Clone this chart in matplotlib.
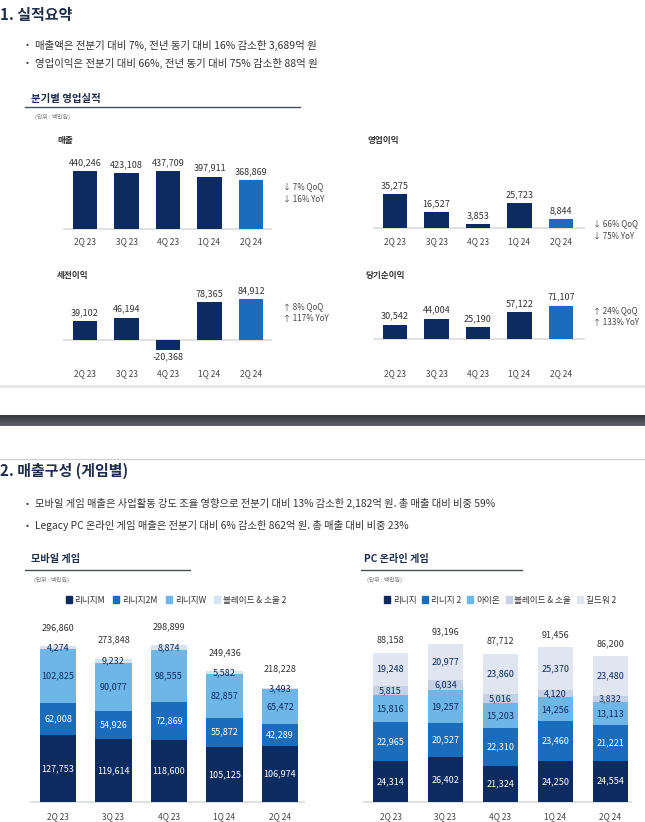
import matplotlib.pyplot as plt
from matplotlib.patches import Patch
from matplotlib.colors import LinearSegmentedColormap
import numpy as np

plt.rcParams['font.family'] = ['Noto Sans CJK KR', 'DejaVu Sans']

W, H = 645, 822

# ---- data ----
quarters = ['2Q 23', '3Q 23', '4Q 23', '1Q 24', '2Q 24']

revenue = [440246, 423108, 437709, 397911, 368869]
op_income = [35275, 16527, 3853, 25723, 8844]
pretax = [39102, 46194, -20368, 78365, 84912]
net_income = [30542, 44004, 25190, 57122, 71107]

top_titles = ['매출', '영업이익', '세전이익', '당기순이익']
top_notes = [['↓ 7% QoQ', '↓ 16% YoY'],
             ['↓ 66% QoQ', '↓ 75% YoY'],
             ['↑ 8% QoQ', '↑ 117% YoY'],
             ['↑ 24% QoQ', '↑ 133% YoY']]

mobile_names = ['리니지M', '리니지2M', '리니지W', '블레이드 & 소울 2']
mobile_lineage_m = [127753, 119614, 118600, 105125, 106974]
mobile_lineage_2m = [62008, 54926, 72869, 55872, 42289]
mobile_lineage_w = [102825, 90077, 98555, 82857, 65472]
mobile_bns2 = [4274, 9232, 8874, 5582, 3493]
mobile_total = [296860, 273848, 298899, 249436, 218228]

pc_names = ['리니지', '리니지 2', '아이온', '블레이드 & 소울', '길드워 2']
pc_lineage = [24314, 26402, 21324, 24250, 24554]
pc_lineage2 = [22965, 20527, 22310, 23460, 21221]
pc_aion = [15816, 19257, 15203, 14256, 13113]
pc_bns = [5815, 6034, 5016, 4120, 3832]
pc_gw2 = [19248, 20977, 23860, 25370, 23480]
pc_total = [88158, 93196, 87712, 91456, 86200]

summary_bullets = ['매출액은 전분기 대비 7%, 전년 동기 대비 16% 감소한 3,689억 원',
                   '영업이익은 전분기 대비 66%, 전년 동기 대비 75% 감소한 88억 원']
game_bullets = ['모바일 게임 매출은 사업활동 강도 조율 영향으로 전분기 대비 13% 감소한 2,182억 원. 총 매출 대비 비중 59%',
                'Legacy PC 온라인 게임 매출은 전분기 대비 6% 감소한 862억 원. 총 매출 대비 비중 23%']

NAVY = '#0c2c61'
BLUE = '#1a6cbd'
LIGHT = '#6db6e6'
PALE = '#c6d1e7'
PALER = '#dfe5f1'
TXT = '#1f2d4d'

fig = plt.figure(figsize=(W / 100, H / 100), dpi=100)
fig.patch.set_facecolor('white')

bg = fig.add_axes([0, 0, 1, 1])
bg.axis('off')


def make_axes(x0, x1, c0, step, ytop, ybot, base, scale):
    # pixel box -> axes whose data units are category index / value
    ax = fig.add_axes([x0 / W, 1 - ybot / H, (x1 - x0) / W, (ybot - ytop) / H])
    ax.set_xlim((x0 - c0) / step, (x1 - c0) / step)
    ax.set_ylim((base - ybot) / scale, (base - ytop) / scale)
    ax.patch.set_visible(False)
    for s in ax.spines.values():
        s.set_visible(False)
    ax.set_yticks([])
    ax.axhline(0, color='#dcdcdc', lw=1.2, zorder=0)
    return ax


# ---- section 1 text ----
bg.text(0, 15, '1. 실적요약', fontsize=10.8, fontweight='bold', color=TXT, va='center')
for i, t in enumerate(summary_bullets):
    y = 45 + 18 * i
    bg.text(26, y, '•', fontsize=6.5, color='#333', va='center')
    bg.text(35, y, t, fontsize=7.5, color='#333', va='center')
bg.text(31, 99, '분기별 영업실적', fontsize=7.5, fontweight='bold', color=TXT, va='center')
bg.plot([25, 300], [107, 107], color='#4a4f5a', lw=1)
bg.text(35, 117, '(단위 : 백만원)', fontsize=4.2, color='#777', va='center')

# ---- top four panels ----
panels = [
    # series, x0, x1, center0, title pos, note pos, ytop, ybot, base, scale, xlabel y
    (revenue, 63, 272, 85, (57, 140), (283, 193), 150, 232, 229, 58 / 440246, 241),
    (op_income, 373, 585, 395, (368, 140), (593, 230), 150, 232, 228, 34 / 35275, 241),
    (pretax, 63, 272, 85, (57, 275), (283, 313), 285, 362, 340, 0.00048, 373),
    (net_income, 373, 585, 395, (365, 275), (593, 317), 285, 362, 339, 0.000465, 373),
]
for k, (vals, x0, x1, c0, tpos, npos, yt, yb, base, sc, ly) in enumerate(panels):
    ax = make_axes(x0, x1, c0, 41.5, yt, yb, base, sc)
    x = np.arange(len(vals))
    cols = [NAVY] * (len(vals) - 1) + [BLUE]
    ax.bar(x, vals, width=0.6, color=cols)
    for xi, v in zip(x, vals):
        if v >= 0:
            ax.annotate(f'{v:,}', (xi, v), xytext=(0, 3), textcoords='offset points',
                        ha='center', va='bottom', fontsize=6.5, color='#333')
        else:
            ax.annotate(f'{v:,}', (xi, v), xytext=(0, -2), textcoords='offset points',
                        ha='center', va='top', fontsize=6.5, color='#333')
    ax.set_xticks(x)
    ax.set_xticklabels(quarters, fontsize=6, color='#444')
    ax.tick_params(axis='x', length=0, pad=(ly - 4 - yb) * 0.72)
    bg.text(tpos[0], tpos[1], top_titles[k], fontsize=6.2, fontweight='bold', color='#333', va='center')
    bg.text(npos[0], npos[1], '\n'.join(top_notes[k]), fontsize=5.8, color='#444',
            va='center', linespacing=1.4)

# ---- separator ----
bg.plot([0, W], [386, 386], color='#e6e6e6', lw=2)
grad = np.linspace(0, 1, 20).reshape(-1, 1)
bg.imshow(grad, extent=[0, W, 426, 415], aspect='auto', zorder=1,
          cmap=LinearSegmentedColormap.from_list('g', ['#35383d', '#5e6267']))
bg.plot([0, W], [459, 459], color='#d4d4d4', lw=1)
bg.set_xlim(0, W)
bg.set_ylim(H, 0)

# ---- section 2 text ----
bg.text(0, 471, '2. 매출구성 (게임별)', fontsize=10.8, fontweight='bold', color=TXT, va='center')
for i, t in enumerate(game_bullets):
    y = 503 + 22 * i
    bg.text(26, y, '•', fontsize=6.5, color='#333', va='center')
    bg.text(35, y, t, fontsize=7.4, color='#333', va='center')

for tx, ux, title in [(31, (25, 190), '모바일 게임'), (364, (361, 522), 'PC 온라인 게임')]:
    bg.text(tx, 559, title, fontsize=7.3, fontweight='bold', color=TXT, va='center')
    bg.plot(ux, [570, 570], color='#4a4f5a', lw=1)
    bg.text(tx + 3, 580, '(단위 : 백만원)', fontsize=4.2, color='#777', va='center')


def stacked(series, colors, txtcols, totals, x0, x1, c0, step, base, scale, width, toff):
    ax = make_axes(x0, x1, c0, step, 615, 803, base, scale)
    x = np.arange(len(totals))
    bottom = np.zeros(len(totals))
    for vals, c, tc in zip(series, colors, txtcols):
        vals = np.array(vals)
        ax.bar(x, vals, width=width, bottom=bottom, color=c)
        for xi, b, v in zip(x, bottom, vals):
            ax.text(xi, b + v / 2, f'{v:,}', ha='center', va='center', fontsize=6.5, color=tc)
        bottom = bottom + vals
    for xi, b, t in zip(x, bottom, totals):
        ax.annotate(f'{t:,}', (xi, b), xytext=(0, toff), textcoords='offset points',
                    ha='center', va='bottom', fontsize=6.5, color='#333')
    ax.set_xticks(x)
    ax.set_xticklabels(quarters, fontsize=6, color='#444')
    ax.tick_params(axis='x', length=0, pad=6.5)
    return ax


mob_series = [mobile_lineage_m, mobile_lineage_2m, mobile_lineage_w, mobile_bns2]
mob_cols = [NAVY, BLUE, LIGHT, '#d7e3f2']
stacked(mob_series, mob_cols, ['white', 'white', NAVY, NAVY], mobile_total,
        30, 305, 58, 55.5, 802, 0.000524, 0.65, 10)

pc_series = [pc_lineage, pc_lineage2, pc_aion, pc_bns, pc_gw2]
pc_cols = [NAVY, BLUE, LIGHT, PALE, PALER]
stacked(pc_series, pc_cols, ['white', 'white', NAVY, NAVY, NAVY], pc_total,
        363, 632, 390.5, 55, 802, 0.00169, 0.64, 6)

for names, cols, cx, cs in [(mobile_names, mob_cols, 176, 1.0), (pc_names, pc_cols, 500, 0.7)]:
    handles = [Patch(color=c, label=n) for n, c in zip(names, cols)]
    fig.legend(handles=handles, loc='center', bbox_to_anchor=(cx / W, 1 - 600 / H),
               ncol=len(names), frameon=False, fontsize=6.2, handlelength=0.7,
               handleheight=0.7, handletextpad=0.3, columnspacing=cs, labelcolor='#333')

fig.savefig('out.png', dpi=100)
